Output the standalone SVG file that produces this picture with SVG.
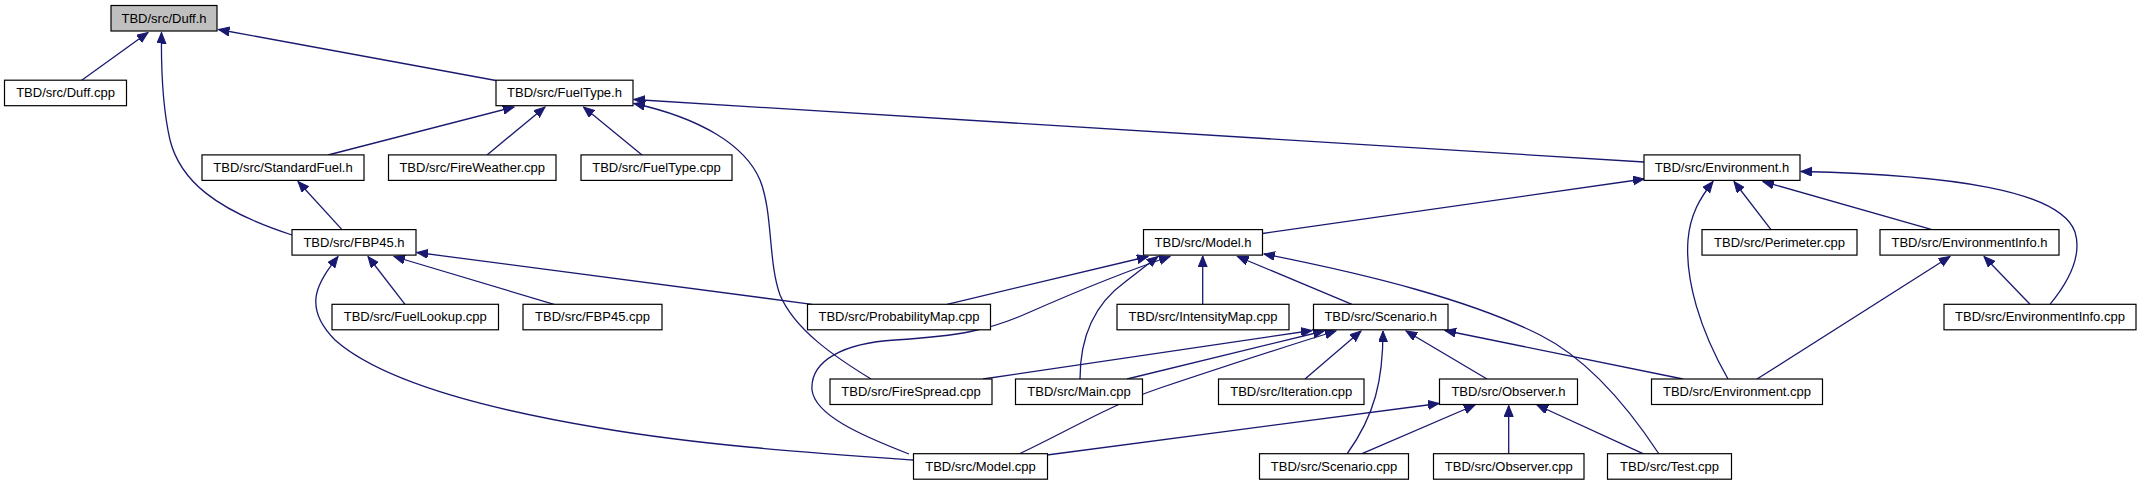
<svg xmlns="http://www.w3.org/2000/svg" width="2143" height="485" viewBox="0 0 2143 485">
<style>
.n rect{fill:#fff;stroke:#000;stroke-width:1.2}
.n.root rect{fill:#bfbfbf}
.n text{font-family:"Liberation Sans",Arial,Helvetica,sans-serif;font-size:13px;fill:#000;text-anchor:middle}
#edges path{fill:none;stroke:#191970;stroke-width:1.3;marker-end:url(#ah)}
</style>
<defs>
<marker id="ah" markerUnits="userSpaceOnUse" markerWidth="12" markerHeight="10" refX="11" refY="4.5" orient="auto" viewBox="0 0 12 10">
<path d="M0,0 L11,4.5 L0,9 z" fill="#191970" stroke="#191970" stroke-width="1"/>
</marker>
</defs>
<rect width="2143" height="485" fill="#fff"/>
<g id="edges">
<path d="M81.7,80.2 L148,32.5"/>
<path d="M496,80.5 L218.5,29.5"/>
<path d="M292,235 C215,210 180,180 170,140 C162,105 161,70 161.5,32.5"/>
<path d="M328,155 L514,107"/>
<path d="M487,155 L545,107"/>
<path d="M642,155 L583.5,107"/>
<path d="M1644,162 L634,99.5"/>
<path d="M871,379 C835,357 795,330 780,295 C768,262 773,212 760,180 C745,145 700,118 634,103.5"/>
<path d="M342,229.6 L298,181.5"/>
<path d="M405,304.3 L368,256.5"/>
<path d="M554,304.3 L394,256.5"/>
<path d="M812,304.3 L417,252.5"/>
<path d="M913,460 C800,452 700,445 600,428 C480,408 380,380 335,340 C300,305 320,280 338,256.5"/>
<path d="M1262.5,233.5 L1644,179"/>
<path d="M1771,229.6 L1734,181.5"/>
<path d="M1932,229.6 L1763,181.5"/>
<path d="M2050,304.3 C2070,280 2082,255 2075,232 C2060,190 1950,175 1801,171.5"/>
<path d="M1728,379 C1700,330 1685,280 1688,240 C1690,215 1700,198 1713,181.5"/>
<path d="M947,304.3 L1148,256.5"/>
<path d="M909,454 C860,435 815,415 812,390 C810,360 845,343 895,340 C960,336 990,330 1030,312 C1080,290 1130,270 1170,256.5"/>
<path d="M1080,379 C1080,330 1100,300 1125,282 C1138,272 1148,264 1158,256.5"/>
<path d="M1202.7,304.3 L1202.7,256"/>
<path d="M1352,304.3 L1237.5,256.5"/>
<path d="M1659,454 C1630,410 1590,360 1540,335 C1470,300 1370,275 1264,254"/>
<path d="M1757,379 L1950,256.5"/>
<path d="M2030,304.3 L1984,256.5"/>
<path d="M983,379 L1312,330.5"/>
<path d="M1127,379 L1324,331"/>
<path d="M1019,454 C1070,430 1110,405 1160,388 C1220,368 1290,345 1336,331"/>
<path d="M1305,379 L1361,331"/>
<path d="M1347,454 C1375,415 1383,380 1383,331"/>
<path d="M1487,379 L1406,331"/>
<path d="M1683,379 L1445,330.5"/>
<path d="M1047,455 L1439,403.5"/>
<path d="M1362,453.7 L1475,405"/>
<path d="M1508.7,453.7 L1508.7,405.5"/>
<path d="M1643,453.7 L1537,405"/>
</g>
<g id="duff_h" class="n root"><rect x="111" y="5.5" width="106" height="25.5"/><text x="164" y="22.5">TBD/src/Duff.h</text></g>
<g id="duff_cpp" class="n"><rect x="4.5" y="80.2" width="122" height="25.5"/><text x="65.5" y="97.2">TBD/src/Duff.cpp</text></g>
<g id="fueltype_h" class="n"><rect x="496" y="80.2" width="137" height="25.5"/><text x="564.5" y="97.2">TBD/src/FuelType.h</text></g>
<g id="standardfuel_h" class="n"><rect x="202" y="154.9" width="162" height="25.5"/><text x="283" y="171.9">TBD/src/StandardFuel.h</text></g>
<g id="fireweather_cpp" class="n"><rect x="388.5" y="154.9" width="167.5" height="25.5"/><text x="472.25" y="171.9">TBD/src/FireWeather.cpp</text></g>
<g id="fueltype_cpp" class="n"><rect x="581" y="154.9" width="151" height="25.5"/><text x="656.5" y="171.9">TBD/src/FuelType.cpp</text></g>
<g id="environment_h" class="n"><rect x="1644" y="154.9" width="156" height="25.5"/><text x="1722" y="171.9">TBD/src/Environment.h</text></g>
<g id="fbp45_h" class="n"><rect x="292" y="229.6" width="124" height="25.5"/><text x="354" y="246.6">TBD/src/FBP45.h</text></g>
<g id="model_h" class="n"><rect x="1143.5" y="229.6" width="119" height="25.5"/><text x="1203" y="246.6">TBD/src/Model.h</text></g>
<g id="perimeter_cpp" class="n"><rect x="1702" y="229.6" width="155" height="25.5"/><text x="1779.5" y="246.6">TBD/src/Perimeter.cpp</text></g>
<g id="environmentinfo_h" class="n"><rect x="1880" y="229.6" width="179" height="25.5"/><text x="1969.5" y="246.6">TBD/src/EnvironmentInfo.h</text></g>
<g id="fuellookup_cpp" class="n"><rect x="332" y="304.3" width="166.5" height="25.5"/><text x="415.25" y="321.3">TBD/src/FuelLookup.cpp</text></g>
<g id="fbp45_cpp" class="n"><rect x="523" y="304.3" width="139" height="25.5"/><text x="592.5" y="321.3">TBD/src/FBP45.cpp</text></g>
<g id="probabilitymap_cpp" class="n"><rect x="807.5" y="304.3" width="183" height="25.5"/><text x="899" y="321.3">TBD/src/ProbabilityMap.cpp</text></g>
<g id="intensitymap_cpp" class="n"><rect x="1117" y="304.3" width="172" height="25.5"/><text x="1203" y="321.3">TBD/src/IntensityMap.cpp</text></g>
<g id="scenario_h" class="n"><rect x="1313.5" y="304.3" width="134.5" height="25.5"/><text x="1380.75" y="321.3">TBD/src/Scenario.h</text></g>
<g id="environmentinfo_cpp" class="n"><rect x="1944" y="304.3" width="192" height="25.5"/><text x="2040" y="321.3">TBD/src/EnvironmentInfo.cpp</text></g>
<g id="firespread_cpp" class="n"><rect x="830" y="379" width="162" height="25.5"/><text x="911" y="396">TBD/src/FireSpread.cpp</text></g>
<g id="main_cpp" class="n"><rect x="1015.5" y="379" width="127" height="25.5"/><text x="1079" y="396">TBD/src/Main.cpp</text></g>
<g id="iteration_cpp" class="n"><rect x="1218.5" y="379" width="145.5" height="25.5"/><text x="1291.25" y="396">TBD/src/Iteration.cpp</text></g>
<g id="observer_h" class="n"><rect x="1439.5" y="379" width="138" height="25.5"/><text x="1508.5" y="396">TBD/src/Observer.h</text></g>
<g id="environment_cpp" class="n"><rect x="1651.5" y="379" width="171" height="25.5"/><text x="1737" y="396">TBD/src/Environment.cpp</text></g>
<g id="model_cpp" class="n"><rect x="913.5" y="453.7" width="134" height="25.5"/><text x="980.5" y="470.7">TBD/src/Model.cpp</text></g>
<g id="scenario_cpp" class="n"><rect x="1259.5" y="453.7" width="149" height="25.5"/><text x="1334" y="470.7">TBD/src/Scenario.cpp</text></g>
<g id="observer_cpp" class="n"><rect x="1433.5" y="453.7" width="150.5" height="25.5"/><text x="1508.75" y="470.7">TBD/src/Observer.cpp</text></g>
<g id="test_cpp" class="n"><rect x="1607.5" y="453.7" width="124" height="25.5"/><text x="1669.5" y="470.7">TBD/src/Test.cpp</text></g>
</svg>
